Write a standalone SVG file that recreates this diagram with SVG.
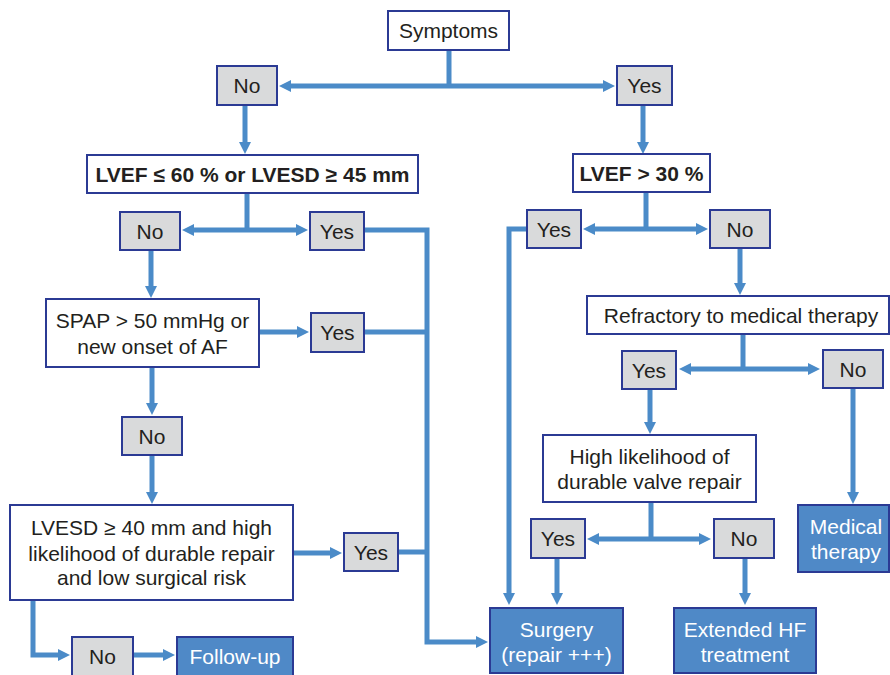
<svg xmlns="http://www.w3.org/2000/svg" width="890" height="675" viewBox="0 0 890 675">
  <style>
    .box { stroke: #2b3a94; stroke-width: 2; }
    .white { fill: #ffffff; }
    .gray { fill: #d9dadb; }
    .blue { fill: #4f89c7; }
    text { font-family: "Liberation Sans", Arial, sans-serif; font-size: 21px; fill: #231f20; text-anchor: middle; }
    .bold { font-weight: bold; }
    .light { fill: #ffffff; }
    .conn { fill: none; stroke: #4b8bc8; stroke-width: 5; stroke-linejoin: miter; }
  </style>
  <defs>
    <marker id="arrow" viewBox="0 0 12 12" markerWidth="12" markerHeight="12" refX="4" refY="6" orient="auto" markerUnits="userSpaceOnUse">
      <path d="M0,0 L12,6 L0,12 z" fill="#4b8bc8"/>
    </marker>
  </defs>
  <rect width="890" height="675" fill="#ffffff"/>

  <!-- connectors -->
  <g id="connectors">
    <path class="conn" d="M449,50 V86"/>
    <path class="conn" d="M449,86 H287" marker-end="url(#arrow)"/>
    <path class="conn" d="M449,86 H607" marker-end="url(#arrow)"/>
    <path class="conn" d="M245,105 V146" marker-end="url(#arrow)"/>
    <path class="conn" d="M643,105 V146" marker-end="url(#arrow)"/>
    <path class="conn" d="M247,193 V230"/>
    <path class="conn" d="M247,230 H190" marker-end="url(#arrow)"/>
    <path class="conn" d="M247,230 H300" marker-end="url(#arrow)"/>
    <path class="conn" d="M364,230 H427 V642 H480" marker-end="url(#arrow)"/>
    <path class="conn" d="M646,192 V229"/>
    <path class="conn" d="M646,229 H591" marker-end="url(#arrow)"/>
    <path class="conn" d="M646,229 H700" marker-end="url(#arrow)"/>
    <path class="conn" d="M527,229 H509 V597" marker-end="url(#arrow)"/>
    <path class="conn" d="M151,250 V290" marker-end="url(#arrow)"/>
    <path class="conn" d="M259,332 H301" marker-end="url(#arrow)"/>
    <path class="conn" d="M364,332 H427"/>
    <path class="conn" d="M152,367 V407" marker-end="url(#arrow)"/>
    <path class="conn" d="M152,455 V496" marker-end="url(#arrow)"/>
    <path class="conn" d="M293,553 H334" marker-end="url(#arrow)"/>
    <path class="conn" d="M398,552 H427"/>
    <path class="conn" d="M33,600 V655 H62" marker-end="url(#arrow)"/>
    <path class="conn" d="M133,655 H167" marker-end="url(#arrow)"/>
    <path class="conn" d="M740,248 V287" marker-end="url(#arrow)"/>
    <path class="conn" d="M743,334 V369"/>
    <path class="conn" d="M743,369 H687" marker-end="url(#arrow)"/>
    <path class="conn" d="M743,369 H812" marker-end="url(#arrow)"/>
    <path class="conn" d="M650,389 V426" marker-end="url(#arrow)"/>
    <path class="conn" d="M853,388 V496" marker-end="url(#arrow)"/>
    <path class="conn" d="M651,502 V539"/>
    <path class="conn" d="M651,539 H595" marker-end="url(#arrow)"/>
    <path class="conn" d="M651,539 H703" marker-end="url(#arrow)"/>
    <path class="conn" d="M557,558 V597" marker-end="url(#arrow)"/>
    <path class="conn" d="M745,558 V597" marker-end="url(#arrow)"/>
  </g>

  <!-- nodes -->
  <g id="symptoms"><rect class="box white" x="388" y="11" width="121" height="39"/><text x="448.5" y="38">Symptoms</text></g>
  <g id="no-symptoms"><rect class="box gray" x="217" y="66" width="60" height="39"/><text x="247" y="93">No</text></g>
  <g id="yes-symptoms"><rect class="box gray" x="617" y="66" width="55" height="39"/><text x="644.5" y="93">Yes</text></g>

  <g id="lvef-60"><rect class="box white" x="87" y="155" width="331" height="38"/><text class="bold" x="252.5" y="181.5">LVEF ≤ 60 % or LVESD ≥ 45 mm</text></g>
  <g id="lvef-30"><rect class="box white" x="573" y="154" width="137" height="38"/><text class="bold" x="641.5" y="180.5">LVEF &gt; 30 %</text></g>

  <g id="no-lvef60"><rect class="box gray" x="120" y="212" width="60" height="38"/><text x="150" y="238.5">No</text></g>
  <g id="yes-lvef60"><rect class="box gray" x="310" y="212" width="54" height="38"/><text x="337" y="238.5">Yes</text></g>
  <g id="yes-lvef30"><rect class="box gray" x="527" y="210" width="54" height="38"/><text x="554" y="236.5">Yes</text></g>
  <g id="no-lvef30"><rect class="box gray" x="710" y="210" width="60" height="38"/><text x="740" y="236.5">No</text></g>

  <g id="spap"><rect class="box white" x="46" y="299" width="213" height="68"/><text x="152.5" y="327.5">SPAP &gt; 50 mmHg or</text><text x="152.5" y="353.5">new onset of AF</text></g>
  <g id="yes-spap"><rect class="box gray" x="311" y="313" width="53" height="39"/><text x="337.5" y="340">Yes</text></g>
  <g id="no-spap"><rect class="box gray" x="122" y="417" width="60" height="38"/><text x="152" y="443.5">No</text></g>

  <g id="lvesd"><rect class="box white" x="10" y="505" width="283" height="95"/><text x="151.5" y="534.5">LVESD ≥ 40 mm and high</text><text x="151.5" y="560.5">likelihood of durable repair</text><text x="151.5" y="585">and low surgical risk</text></g>
  <g id="yes-lvesd"><rect class="box gray" x="344" y="533" width="54" height="38"/><text x="371" y="559.5">Yes</text></g>
  <g id="no-lvesd"><rect class="box gray" x="72" y="637" width="61" height="40"/><text x="102.5" y="663.5">No</text></g>
  <g id="follow-up"><rect class="box blue" x="177" y="637" width="116" height="40"/><text class="light" x="235" y="663.5">Follow-up</text></g>

  <g id="refractory"><rect class="box white" x="587" y="296" width="302" height="38"/><text x="741" y="322.5">Refractory to medical therapy</text></g>
  <g id="yes-refractory"><rect class="box gray" x="622" y="351" width="54" height="38"/><text x="649" y="377.5">Yes</text></g>
  <g id="no-refractory"><rect class="box gray" x="823" y="350" width="60" height="38"/><text x="853" y="376.5">No</text></g>

  <g id="durable-repair"><rect class="box white" x="543" y="435" width="213" height="67"/><text x="649.5" y="463.5">High likelihood of</text><text x="649.5" y="489">durable valve repair</text></g>
  <g id="yes-repair"><rect class="box gray" x="531" y="519" width="54" height="39"/><text x="558" y="546">Yes</text></g>
  <g id="no-repair"><rect class="box gray" x="714" y="519" width="60" height="39"/><text x="744" y="546">No</text></g>

  <g id="medical-therapy"><rect class="box blue" x="798" y="505" width="91" height="67"/><text class="light" x="846" y="533.5">Medical</text><text class="light" x="846" y="558.5">therapy</text></g>
  <g id="surgery"><rect class="box blue" x="490" y="608" width="133" height="65"/><text class="light" x="556.5" y="636.5">Surgery</text><text class="light" x="556.5" y="661.5">(repair +++)</text></g>
  <g id="extended-hf"><rect class="box blue" x="674" y="608" width="142" height="65"/><text class="light" x="745" y="636.5">Extended HF</text><text class="light" x="745" y="661.5">treatment</text></g>
</svg>
